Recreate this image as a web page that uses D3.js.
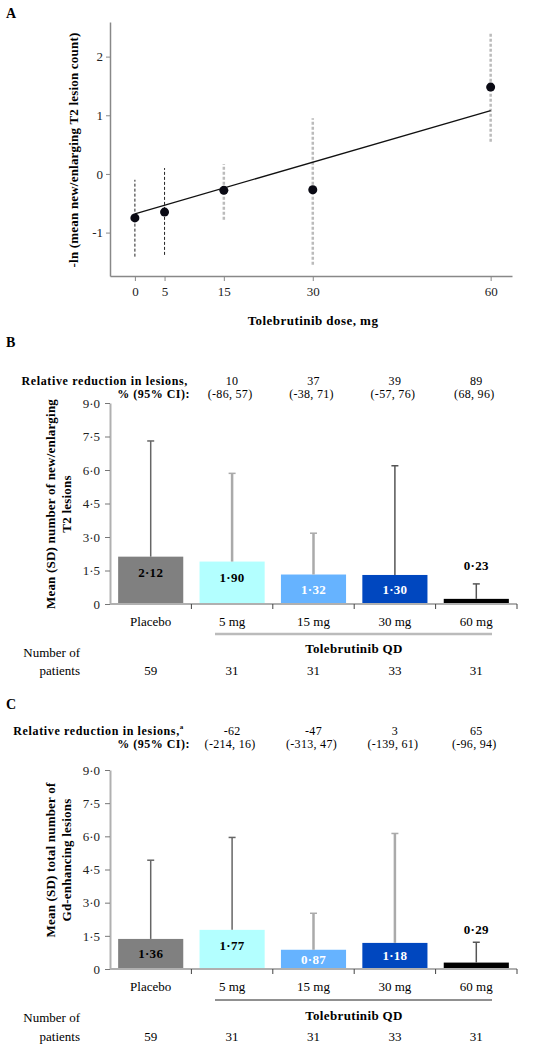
<!DOCTYPE html>
<html><head><meta charset="utf-8">
<script src="https://cdn.jsdelivr.net/npm/d3@7"></script>
<style>
body{margin:0;background:#fff;}
text{font-family:"Liberation Serif","Times New Roman",serif;}
</style></head>
<body><svg id="c" width="550" height="1050"></svg>
<script>
// ---- Panel A data ----
const doses = [0, 5, 15, 30, 60];
const lnValues = [-0.75, -0.65, -0.28, -0.27, 1.48];
const lnLower = [-1.41, -1.38, -0.78, -1.55, 0.55];
const lnUpper = [-0.10, 0.10, 0.17, 0.95, 2.41];
const fitDoses = [0, 60];
const fitValues = [-0.68, 1.08];
const yTicksA = [-1, 0, 1, 2];

// ---- Panel B/C data ----
const groups = ["Placebo", "5 mg", "15 mg", "30 mg", "60 mg"];
const patients = [59, 31, 31, 33, 31];
const t2Means = [2.12, 1.90, 1.32, 1.30, 0.23];
const t2SDTop = [7.30, 5.85, 3.17, 6.19, 0.90];
const t2Reduction = ["10", "37", "39", "89"];
const t2CI = ["(-86, 57)", "(-38, 71)", "(-57, 76)", "(68, 96)"];
const gdMeans = [1.36, 1.77, 0.87, 1.18, 0.29];
const gdSDTop = [4.92, 5.95, 2.52, 6.13, 1.21];
const gdReduction = ["-62", "-47", "3", "65"];
const gdCI = ["(-214, 16)", "(-313, 47)", "(-139, 61)", "(-96, 94)"];
const yTicksBar = [0, 1.5, 3, 4.5, 6, 7.5, 9];

const barColors = ["#808080", "#b3ffff", "#66b3ff", "#0047bf", "#000000"];
const labelColors = ["#000", "#000", "#fff", "#fff", "#000"];
const errColorsB = ["#666", "#aaa", "#aaa", "#555", "#555"];
const errColorsC = ["#666", "#666", "#aaa", "#aaa", "#555"];

const svg = d3.select("#c");
const fmt = d => d === 0 ? "0" : d.toFixed(1).replace(".", "\u00b7");
const fmt2 = d => d.toFixed(2).replace(".", "\u00b7");

// ---------- Panel A ----------
const xA = d3.scaleLinear().domain([-4.2, 63.6]).range([110, 512]);
const yA = d3.scaleLinear().domain([-1.74, 2.59]).range([276, 22]);
svg.append("text").attr("x", 6).attr("y", 13).attr("dominant-baseline","central")
  .attr("font-weight","bold").attr("font-size",14).text("A");

const gA = svg.append("g");
const axA = gA.append("g").attr("transform","translate(0,276)")
  .call(d3.axisBottom(xA).tickValues(doses).tickSize(5).tickSizeOuter(0));
const ayA = gA.append("g").attr("transform","translate(110,0)")
  .call(d3.axisLeft(yA).tickValues(yTicksA).tickSize(4).tickSizeOuter(0).tickFormat(d=>d));
[axA, ayA].forEach(a=>{
  a.select(".domain").attr("stroke","#888").attr("stroke-width",1.5);
  a.selectAll(".tick line").attr("stroke","#888");
  a.selectAll("text").attr("font-size",13).attr("fill","#222").style("font-family","Liberation Serif");
});
axA.selectAll("text").attr("dy","0.9em");
// CI bars
gA.selectAll(".ci").data(doses).enter().append("line")
  .attr("x1",d=>xA(d)).attr("x2",d=>xA(d))
  .attr("y1",(d,i)=>yA(lnLower[i])).attr("y2",(d,i)=>yA(lnUpper[i]))
  .attr("stroke",(d,i)=> i<2 ? "#222" : "#bbb")
  .attr("stroke-width",(d,i)=> i<2 ? 1 : 2.5)
  .attr("stroke-dasharray","3,2");
// fit line
gA.append("line").attr("x1",xA(fitDoses[0])).attr("y1",yA(fitValues[0]))
  .attr("x2",xA(fitDoses[1])).attr("y2",yA(fitValues[1]))
  .attr("stroke","#111").attr("stroke-width",1.3);
gA.selectAll(".pt").data(doses).enter().append("circle")
  .attr("cx",d=>xA(d)).attr("cy",(d,i)=>yA(lnValues[i])).attr("r",4.5).attr("fill","#0a0a14");
gA.append("text").attr("transform","translate(73,150) rotate(-90)")
  .attr("text-anchor","middle").attr("dominant-baseline","central")
  .attr("font-weight","bold").attr("font-size",13).attr("letter-spacing",0.2)
  .text("-ln (mean new/enlarging T2  lesion count)");
gA.append("text").attr("x",313).attr("y",320).attr("text-anchor","middle").attr("dominant-baseline","central")
  .attr("font-weight","bold").attr("font-size",13).attr("letter-spacing",0.45).text("Tolebrutinib dose, mg");

// ---------- Bar panels ----------
function barPanel(opt){
  const g = svg.append("g");
  const x = d3.scaleBand().domain(groups).range([110, 517]).paddingInner(0.2).paddingOuter(0.1);
  const y = d3.scaleLinear().domain([0, 9]).range([opt.base, opt.top]);
  g.append("text").attr("x",6).attr("y",opt.letterY).attr("dominant-baseline","central")
    .attr("font-weight","bold").attr("font-size",14).text(opt.letter);
  // header
  const h1 = g.append("text").attr("x",opt.h1x).attr("y",opt.h1y).attr("text-anchor","end")
    .attr("dominant-baseline","central").attr("font-weight","bold").attr("font-size",12)
    .attr("letter-spacing",0.65).text("Relative reduction in lesions,");
  if (opt.sup) h1.append("tspan").attr("font-size",7).attr("dy",-4).text("a");
  g.append("text").attr("x",190).attr("y",opt.h2y).attr("text-anchor","end")
    .attr("dominant-baseline","central").attr("font-weight","bold").attr("font-size",12)
    .attr("letter-spacing",0.5).text("% (95% CI):");
  const active = groups.slice(1);
  g.selectAll(".red").data(active).enter().append("text")
    .attr("x",d=>x(d)+x.bandwidth()/2).attr("y",opt.h1y).attr("text-anchor","middle")
    .attr("dominant-baseline","central").attr("font-size",12).attr("letter-spacing",0.3)
    .text((d,i)=>opt.reduction[i]);
  g.selectAll(".ci").data(active).enter().append("text")
    .attr("x",d=>x(d)+x.bandwidth()/2 - 2).attr("y",opt.h2y).attr("text-anchor","middle")
    .attr("dominant-baseline","central").attr("font-size",12).attr("letter-spacing",0.3)
    .text((d,i)=>opt.ci[i]);
  // y axis
  const ay = g.append("g").attr("transform","translate(110,0)")
    .call(d3.axisLeft(y).tickValues(yTicksBar).tickFormat(fmt).tickSize(5).tickSizeOuter(0));
  ay.select(".domain").attr("stroke","#b0b0b0").attr("stroke-width",2);
  ay.selectAll(".tick line").attr("stroke","#777");
  ay.selectAll("text").attr("font-size",13).attr("fill","#222").attr("x",-10).style("font-family","Liberation Serif");
  // bars
  g.selectAll(".bar").data(groups).enter().append("rect")
    .attr("x",d=>x(d)).attr("width",x.bandwidth())
    .attr("y",(d,i)=>y(opt.means[i])).attr("height",(d,i)=>y(0)-y(opt.means[i]))
    .attr("fill",(d,i)=>barColors[i]);
  // error bars
  g.selectAll(".err").data(groups).enter().append("line")
    .attr("x1",d=>x(d)+x.bandwidth()/2).attr("x2",d=>x(d)+x.bandwidth()/2)
    .attr("y1",(d,i)=>y(opt.means[i])).attr("y2",(d,i)=>y(opt.sd[i]))
    .attr("stroke",(d,i)=>opt.errColors[i]).attr("stroke-width",(d,i)=>opt.errColors[i]==="#aaa"?2.5:1.5);
  g.selectAll(".cap").data(groups).enter().append("line")
    .attr("x1",d=>x(d)+x.bandwidth()/2-3.5).attr("x2",d=>x(d)+x.bandwidth()/2+3.5)
    .attr("y1",(d,i)=>y(opt.sd[i])).attr("y2",(d,i)=>y(opt.sd[i]))
    .attr("stroke",(d,i)=>opt.errColors[i]).attr("stroke-width",1.5);
  // x axis line
  g.append("line").attr("x1",110).attr("x2",517).attr("y1",y(0)).attr("y2",y(0))
    .attr("stroke","#b0b0b0").attr("stroke-width",2);
  g.selectAll(".xt").data(groups).enter().append("line")
    .attr("x1",d=>x(d)+x.bandwidth()+x.step()*0.1).attr("x2",d=>x(d)+x.bandwidth()+x.step()*0.1)
    .attr("y1",y(0)).attr("y2",y(0)+5).attr("stroke","#444").attr("stroke-width",1);
  // value labels
  g.selectAll(".vl").data(groups).enter().append("text")
    .attr("x",d=>x(d)+x.bandwidth()/2)
    .attr("y",(d,i)=>{
      const t = y(opt.means[i]), b = y(0);
      if (i===4) return t - 33;
      return Math.min(t+16, (t+b)/2);
    })
    .attr("text-anchor","middle").attr("dominant-baseline","central")
    .attr("font-weight","bold").attr("font-size",13).attr("letter-spacing",0.3)
    .attr("fill",(d,i)=>labelColors[i]).text((d,i)=>fmt2(opt.means[i]));
  // category labels
  g.selectAll(".cl").data(groups).enter().append("text")
    .attr("x",d=>x(d)+x.bandwidth()/2).attr("y",y(0)+17)
    .attr("text-anchor","middle").attr("dominant-baseline","central").attr("font-size",13).text(d=>d);
  g.append("line").attr("x1",215).attr("x2",492).attr("y1",y(0)+opt.brOff).attr("y2",y(0)+opt.brOff)
    .attr("stroke",opt.brColor).attr("stroke-width",opt.brWidth);
  g.append("text").attr("x",354).attr("y",y(0)+opt.qdOff).attr("text-anchor","middle")
    .attr("dominant-baseline","central").attr("font-weight","bold").attr("font-size",13)
    .attr("letter-spacing",0.35).text("Tolebrutinib QD");
  g.append("text").attr("x",80).attr("y",y(0)+opt.nOff1).attr("text-anchor","end")
    .attr("dominant-baseline","central").attr("font-size",13).text("Number of");
  g.append("text").attr("x",80).attr("y",y(0)+opt.nOff2).attr("text-anchor","end")
    .attr("dominant-baseline","central").attr("font-size",13).text("patients");
  g.selectAll(".np").data(groups).enter().append("text")
    .attr("x",d=>x(d)+x.bandwidth()/2).attr("y",y(0)+opt.nOff2)
    .attr("text-anchor","middle").attr("dominant-baseline","central").attr("font-size",13)
    .text((d,i)=>patients[i]);
  // y title
  const yt = g.append("text").attr("transform",`translate(50,${opt.titleY}) rotate(-90)`)
    .attr("text-anchor","middle").attr("font-weight","bold").attr("font-size",13).attr("letter-spacing",0.2);
  yt.append("tspan").attr("x",0).attr("dy","0.35em").text(opt.title[0]);
  yt.append("tspan").attr("x",0).attr("dy","1.25em").text(opt.title[1]);
}

barPanel({letter:"B", letterY:342, h1x:188, h1y:381, h2y:394, sup:false,
  base:604, top:403, means:t2Means, sd:t2SDTop, reduction:t2Reduction, ci:t2CI,
  errColors:errColorsB, brOff:30, brColor:"#bbb", brWidth:2.5, qdOff:44, nOff1:48.5, nOff2:66,
  titleY:504, title:["Mean (SD) number of new/enlarging","T2 lesions"]});

barPanel({letter:"C", letterY:704, h1x:184, h1y:731, h2y:744, sup:true,
  base:969, top:770, means:gdMeans, sd:gdSDTop, reduction:gdReduction, ci:gdCI,
  errColors:errColorsC, brOff:31, brColor:"#222", brWidth:1, qdOff:46, nOff1:48.5, nOff2:67,
  titleY:860, title:["Mean (SD) total number of","Gd-enhancing lesions"]});
</script></body></html>
